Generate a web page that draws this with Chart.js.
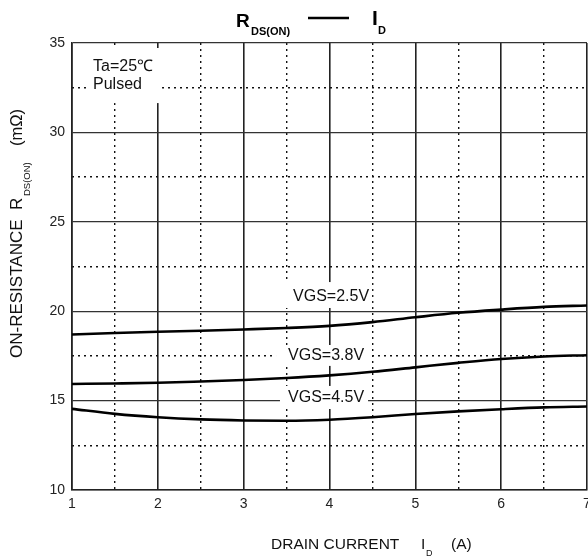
<!DOCTYPE html>
<html><head><meta charset="utf-8">
<script src="https://cdn.jsdelivr.net/npm/chart.js@4.4.1/dist/chart.umd.min.js"></script>
<style>html,body{margin:0;padding:0;background:#fff;overflow:hidden}canvas{display:block}</style>
</head><body>
<canvas id="c" width="588" height="558"></canvas>
<script>
// ---- data ----
const currents = [1, 1.5, 2, 2.5, 3, 3.5, 4, 4.5, 5, 5.5, 6, 6.5, 7];
const rVgs25 = [18.70, 18.78, 18.85, 18.91, 18.98, 19.06, 19.18, 19.39, 19.66, 19.91, 20.09, 20.24, 20.32];
const rVgs38 = [15.93, 15.96, 16.00, 16.07, 16.15, 16.26, 16.41, 16.61, 16.86, 17.11, 17.33, 17.47, 17.54];
const rVgs45 = [14.54, 14.26, 14.07, 13.95, 13.89, 13.87, 13.93, 14.07, 14.25, 14.40, 14.52, 14.62, 14.67];
const seriesNames = ['VGS=2.5V', 'VGS=3.8V', 'VGS=4.5V'];
const xMajorTicks = [1, 2, 3, 4, 5, 6, 7];
const xMinorTicks = [1.5, 2.5, 3.5, 4.5, 5.5, 6.5];
const yMajorTicks = [10, 15, 20, 25, 30, 35];
const yMinorTicks = [12.5, 17.5, 22.5, 27.5, 32.5];
const conditionLines = ['Ta=25\u2103', 'Pulsed'];

// ---- styling / placement (not data) ----
const FAM = '"Liberation Sans", Arial, Helvetica, sans-serif';
const labelBoxes = [
  {x0: 1.163, x1: 2.049, y0: 34.72, y1: 31.64},
  {x0: 3.459, x1: 4.496, y0: 21.63, y1: 20.18},
  {x0: 3.377, x1: 4.472, y0: 18.11, y1: 16.94},
  {x0: 3.423, x1: 4.449, y0: 15.82, y1: 14.53}
];
const seriesLabelPos = [
  {x: 3.575, y: 20.57},
  {x: 3.517, y: 17.27},
  {x: 3.517, y: 14.92}
];
const conditionPos = [{x: 1.245, y: 33.43}, {x: 1.245, y: 32.43}];

const tickSetter = arr => s => { s.ticks = arr.map(v => ({value: v})); };

const annotPlugin = {
  id: 'annot',
  beforeDatasetsDraw(chart) {
    const ctx = chart.ctx, xs = chart.scales.x, ys = chart.scales.y;
    ctx.save();
    ctx.fillStyle = '#fff';
    labelBoxes.forEach(b => {
      const px0 = xs.getPixelForValue(b.x0), px1 = xs.getPixelForValue(b.x1);
      const py0 = ys.getPixelForValue(b.y0), py1 = ys.getPixelForValue(b.y1);
      ctx.fillRect(px0, py0, px1 - px0, py1 - py0);
    });
    ctx.fillStyle = '#111';
    ctx.textBaseline = 'alphabetic';
    ctx.textAlign = 'left';
    ctx.font = '16px ' + FAM;
    seriesNames.forEach((t, i) => {
      ctx.fillText(t, xs.getPixelForValue(seriesLabelPos[i].x), ys.getPixelForValue(seriesLabelPos[i].y));
    });
    conditionLines.forEach((t, i) => {
      ctx.fillText(t, xs.getPixelForValue(conditionPos[i].x), ys.getPixelForValue(conditionPos[i].y));
    });
    ctx.restore();
  },
  afterDraw(chart) {
    const ctx = chart.ctx;
    ctx.save();
    ctx.fillStyle = '#000';
    ctx.textAlign = 'left';
    ctx.textBaseline = 'alphabetic';
    // Title
    ctx.font = 'bold 19px ' + FAM;
    ctx.fillText('R', 236, 27);
    ctx.font = 'bold 11px ' + FAM;
    ctx.fillText('DS(ON)', 251, 35);
    ctx.strokeStyle = '#000';
    ctx.lineWidth = 2.4;
    ctx.beginPath(); ctx.moveTo(308, 18); ctx.lineTo(349, 18); ctx.stroke();
    ctx.font = 'bold 21px ' + FAM;
    ctx.fillText('I', 372, 25);
    ctx.font = 'bold 11px ' + FAM;
    ctx.fillText('D', 378, 34);
    // X title
    ctx.fillStyle = '#111';
    ctx.font = '15.5px ' + FAM;
    ctx.fillText('DRAIN CURRENT', 271, 549);
    ctx.fillText('I', 421, 549);
    ctx.font = '9px ' + FAM;
    ctx.fillText('D', 426, 556);
    ctx.font = '15.5px ' + FAM;
    ctx.fillText('(A)', 451, 549);
    // Y title (rotated)
    ctx.translate(22, 358);
    ctx.rotate(-Math.PI / 2);
    ctx.font = '17px ' + FAM;
    ctx.fillText('ON-RESISTANCE', 0, 0);
    ctx.fillText('R', 148, 0);
    ctx.font = '9.5px ' + FAM;
    ctx.fillText('DS(ON)', 162, 8);
    ctx.font = '16.5px ' + FAM;
    ctx.fillText('(m\u03A9)', 212, 0);
    ctx.restore();
  }
};

const mkSeries = (vals, i) => ({
  label: seriesNames[i],
  data: currents.map((x, k) => ({x, y: vals[k]})),
  xAxisID: 'x', yAxisID: 'y',
  borderColor: '#000', borderWidth: 2.6, pointRadius: 0,
  cubicInterpolationMode: 'monotone', fill: false
});

new Chart(document.getElementById('c'), {
  type: 'line',
  data: { datasets: [mkSeries(rVgs25, 0), mkSeries(rVgs38, 1), mkSeries(rVgs45, 2)] },
  options: {
    responsive: false, animation: false, devicePixelRatio: 1,
    layout: { padding: { top: 43, left: 0, right: 1, bottom: 0 } },
    plugins: { legend: { display: false }, tooltip: { enabled: false }, title: { display: false } },
    scales: {
      x: {
        type: 'linear', position: 'bottom', min: 1, max: 7,
        afterBuildTicks: tickSetter(xMajorTicks),
        ticks: { color: '#222', font: { size: 14, family: FAM }, padding: 6, autoSkip: false, maxRotation: 0 },
        grid: { color: '#222', lineWidth: 1.6, drawTicks: false },
        border: { display: true, color: '#222', width: 1.6 },
        afterFit: s => { s.height = 68; s.paddingLeft = 0; s.paddingRight = 0; }
      },
      xMinor: {
        type: 'linear', position: 'bottom', min: 1, max: 7,
        afterBuildTicks: tickSetter(xMinorTicks),
        ticks: { display: false },
        grid: { color: '#111', lineWidth: 1.4, drawTicks: false },
        border: { display: false, dash: [2, 4] },
        afterFit: s => { s.height = 0; s.paddingLeft = 0; s.paddingRight = 0; }
      },
      y: {
        type: 'linear', position: 'left', min: 10, max: 35,
        afterBuildTicks: tickSetter(yMajorTicks),
        ticks: { color: '#222', font: { size: 14, family: FAM }, padding: 7 },
        grid: { color: '#333', lineWidth: 1.3, drawTicks: false },
        border: { display: true, color: '#222', width: 1.6 },
        afterFit: s => { s.width = 72; }
      },
      yMinor: {
        type: 'linear', position: 'left', min: 10, max: 35,
        afterBuildTicks: tickSetter(yMinorTicks),
        ticks: { display: false },
        grid: { color: '#111', lineWidth: 1.4, drawTicks: false },
        border: { display: false, dash: [2, 4] },
        afterFit: s => { s.width = 0; }
      }
    }
  },
  plugins: [annotPlugin]
});
</script>
</body></html>
